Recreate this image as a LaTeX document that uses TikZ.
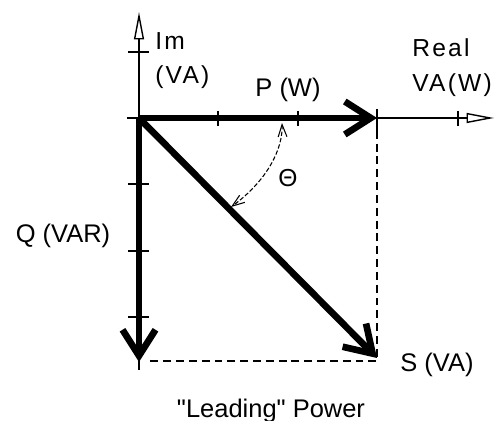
\documentclass[tikz,border=0pt]{standalone}
\usepackage{fontspec}
\setmainfont{Liberation Sans}
\newfontfamily\plainsans{Liberation Sans}
\newfontfamily\cadsans[LetterSpace=9]{Liberation Sans}
\usetikzlibrary{arrows.meta}

\begin{document}
\begin{tikzpicture}[
  x=0.02cm, y=-0.02cm,
  axis/.style={line width=0.8pt},
  axtip/.style={-{Triangle[open,length=0.55cm,width=0.2cm]}},
  vec/.style={line width=3.8pt,-{Straight Barb[length=0.52cm,width=0.66cm]}},
  guide/.style={line width=0.8pt,dash pattern=on 4.5pt off 2.8pt},
  anglearc/.style={line width=0.6pt,dash pattern=on 2.5pt off 1.2pt,
    {Straight Barb[length=7pt,width=5pt]}-{Straight Barb[length=7pt,width=5pt]}},
  lbl/.style={inner sep=0pt,font=\fontsize{14.5}{17}\selectfont},
  cad/.style={inner sep=0pt,font=\cadsans\fontsize{14}{17}\selectfont}
]
  \useasboundingbox (0,0) rectangle (496,421);
  % points of the triangle
  \coordinate (O) at (139,118);
  \coordinate (P) at (377,118);
  \coordinate (Q) at (139,362);
  \coordinate (S) at (377,358);
  \coordinate (C) at (377,361);
  \coordinate (Cq) at (150,361);
  % axes
  \coordinate (xb) at (127,118);
  \coordinate (xt) at (494,118);
  \coordinate (yb) at (139,370);
  \coordinate (yt) at (139,12);
  \draw[axis,axtip] (xb) -- (xt);
  \draw[axis,axtip] (yb) -- (yt);
  \foreach \x in {218,298,458}
    \draw[axis] (\x,111) -- (\x,126);
  \draw[axis] (377,109) -- (377,138);
  \foreach \y in {52,184,251,317}
    \draw[axis] (128,\y) -- (149,\y);
  % dashed completion
  \draw[guide] (P) -- (C) -- (Cq);
  % vectors
  \draw[vec] (O) -- (P);
  \draw[vec] (O) -- (Q);
  \draw[vec] (O) -- (S);
  % angle
  \coordinate (a1) at (282,123);
  \coordinate (a2) at (231,207);
  \draw[anglearc] (a1) .. controls (283,148) and (268,180) .. (a2);
  % labels
  \node[cad,anchor=base west] (im) at (155,50) {Im};
  \node[cad,anchor=base west] (imu) at (155,84) {(VA)};
  \node[cad,anchor=base west] (re) at (412,57) {Real};
  \node[cad,anchor=base west] (reu) at (412,92) {VA(W)};
  \node[cad] (th) at (288,178) {Θ};
  \node[lbl,anchor=base] (pl) at (288,97) {P (W)};
  \node[lbl,anchor=base] (ql) at (63,243) {Q (VAR)};
  \node[lbl,anchor=base] (sl) at (437,372) {S (VA)};
  \node[lbl,anchor=base] (cap) at (271,418) {\plainsans "Leading" Power};
\end{tikzpicture}
\end{document}
